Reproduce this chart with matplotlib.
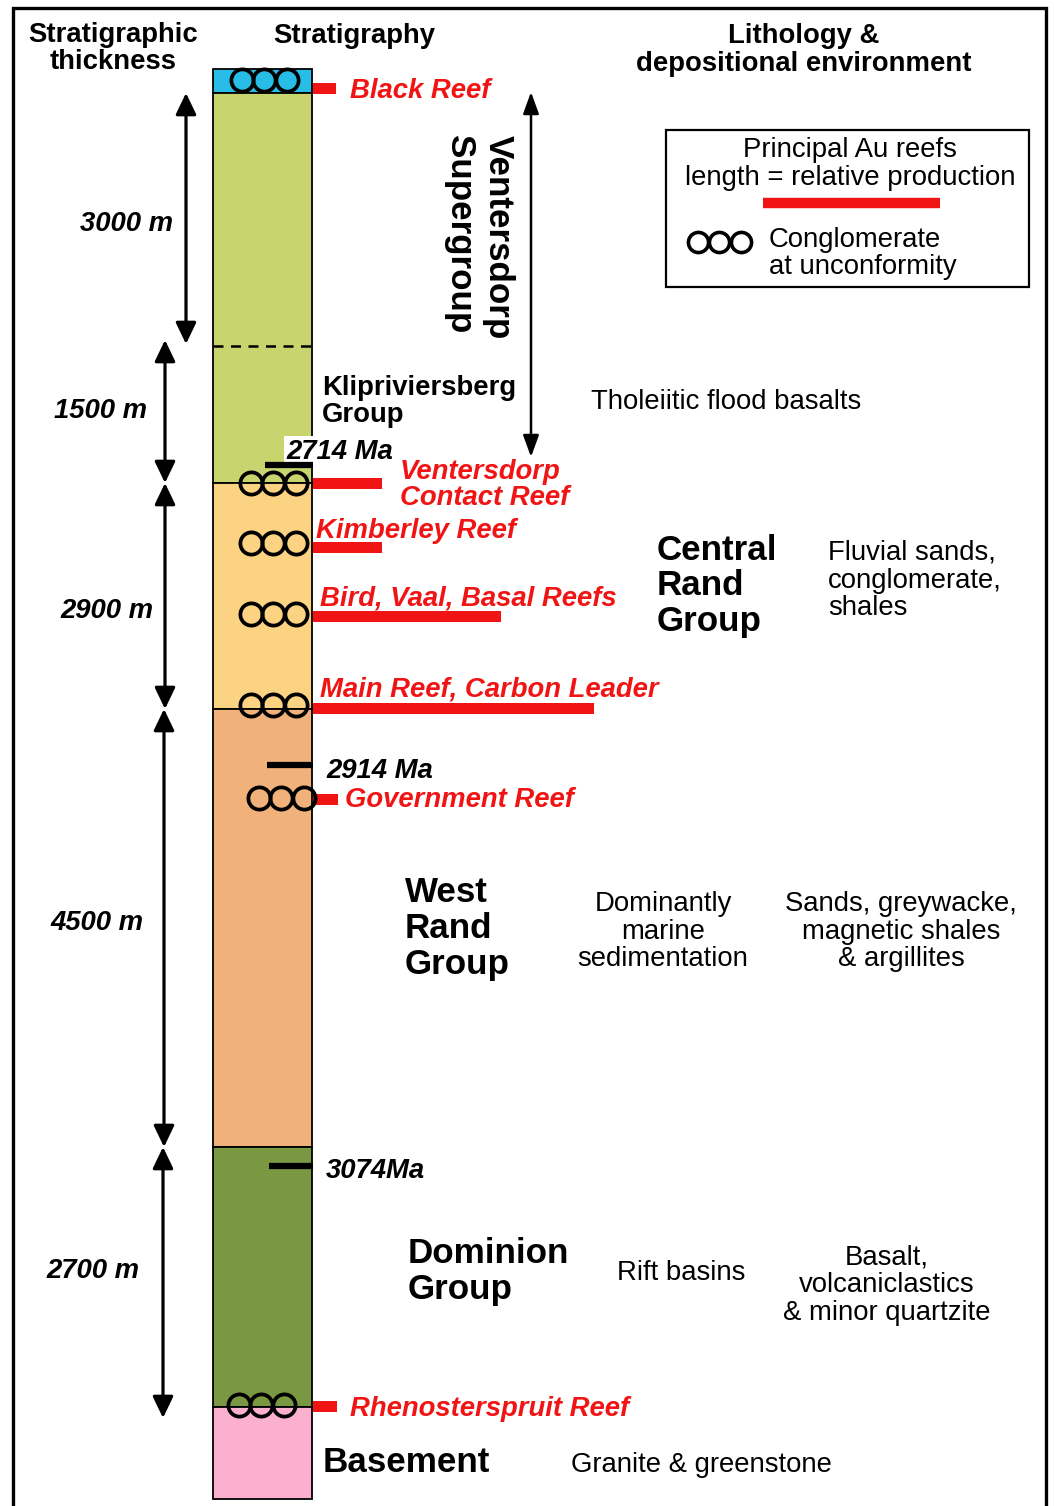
import matplotlib
matplotlib.use('Agg')
import matplotlib.pyplot as plt

plt.rcParams['font.family'] = ['Liberation Sans', 'DejaVu Sans']

# ---------------- data ----------------
units = ['Black Reef Fm', 'Klipriviersberg Group', 'Central Rand Group',
         'West Rand Group', 'Dominion Group', 'Basement']
unit_top = [69, 93, 483, 709, 1147, 1407]      # drawn column depth (top)
unit_base = [93, 483, 709, 1147, 1407, 1499]   # drawn column depth (base)
unit_colors = ['#28bde6', '#c8d56f', '#fcd283', '#f1b17b', '#7a9742', '#fbb0cf']

thick_labels = ['3000 m', '1500 m', '2900 m', '4500 m', '2700 m']
thick_top = [93, 340, 483, 709, 1147]
thick_base = [344, 483, 709, 1147, 1418]

reef_names = ['Black Reef', 'Ventersdorp\nContact Reef', 'Kimberley Reef',
              'Bird, Vaal, Basal Reefs', 'Main Reef, Carbon Leader',
              'Government Reef', 'Rhenosterspruit Reef']
reef_depth = [88, 483, 547, 616, 708, 799, 1406]
reef_production = [23, 69, 69, 188, 281, 25, 24]   # relative production (bar length)

congl_depth = [80, 483, 543, 614, 705, 798, 1405]
congl_offset = [-21, -12, -12, -12, -12, -4, -24]

ages = ['2714 Ma', '2914 Ma', '3074Ma']
age_depth = [465, 765, 1166]

# ---------------- figure ----------------
W, H = 1054, 1506
fig = plt.figure(figsize=(W / 100, H / 100), dpi=100)
ax = fig.add_axes([0, 0, 1, 1])
ax.set_xlim(0, W)
ax.set_ylim(H, 0)
ax.axis('off')

RED = '#f01414'
FS = 19.8
FL = 25.2
DY = 2.5   # vertical text nudge

# outer frame
ax.plot([13, 13, 1046, 1046], [1506, 8, 8, 1506], color='k', lw=2.4,
        solid_joinstyle='miter', zorder=1)

# stratigraphic column
col_left, col_w = 213, 99
for t, b, c in zip(unit_top, unit_base, unit_colors):
    ax.bar(col_left, b - t, bottom=t, width=col_w, align='edge', color=c,
           edgecolor='k', linewidth=1.3, zorder=2)
# dashed line inside Klipriviersberg (top of 1500 m interval)
ax.plot([col_left, col_left + col_w], [thick_top[1] + 6, thick_top[1] + 6],
        color='k', lw=1.8, ls=(0, (4, 3)), zorder=3)

# conglomerate circles
cx_base = col_left + col_w / 2
for d, off in zip(congl_depth, congl_offset):
    xs = [cx_base + off + k * 22.5 for k in range(3)]
    ax.plot(xs, [d] * 3, 'o', ms=16, mfc='none', mec='k', mew=2.7, zorder=5)

# reef bars
ax.barh(reef_depth, reef_production, left=col_left + col_w + 1, height=11,
        color=RED, zorder=4)

# reef labels
reef_lab_pos = [(350, 88), (400, 482), (316, 528), (320, 596), (320, 687),
                (345, 797), (350, 1406)]
for name, (x, y) in zip(reef_names, reef_lab_pos):
    ax.text(x, y + DY, name, color=RED, fontsize=FS, fontweight='bold',
            fontstyle='italic', ha='left', va='center', linespacing=1.0, zorder=6)

# age markers
age_x0 = [265, 267, 269]
age_lab = [(286, 449), (326, 768), (326, 1168)]
for a, d, x0, (tx, ty) in zip(ages, age_depth, age_x0, age_lab):
    ax.plot([x0, col_left + col_w + 1], [d, d], color='k', lw=4.5,
            solid_capstyle='butt', zorder=6)
    kw = {}
    if a.startswith('2714'):
        kw['bbox'] = dict(facecolor='white', edgecolor='none', pad=1.5)
    ax.text(tx, ty + DY, a, fontsize=FS, fontweight='bold', fontstyle='italic',
            ha='left', va='center', zorder=5, **kw)

# thickness arrows
thick_x = [186, 165, 165, 164, 163]
for lab, t, b, x in zip(thick_labels, thick_top, thick_base, thick_x):
    ax.annotate('', xy=(x, t), xytext=(x, b),
                arrowprops=dict(arrowstyle='<|-|>,head_length=0.5,head_width=0.24',
                                color='k', lw=2.3, mutation_scale=26,
                                shrinkA=0, shrinkB=0), zorder=3)
thick_lab_x = [127, 101, 107, 97, 93]
thick_lab_y = [221, 408, 608, 920, 1268]
for lab, x, y in zip(thick_labels, thick_lab_x, thick_lab_y):
    ax.text(x, y + DY, lab, fontsize=FS, fontweight='bold', fontstyle='italic',
            ha='center', va='center')

# Ventersdorp Supergroup arrow
ax.annotate('', xy=(531, 92), xytext=(531, 457),
            arrowprops=dict(arrowstyle='<|-|>,head_length=0.55,head_width=0.2',
                            color='k', lw=1.8, mutation_scale=24,
                            shrinkA=0, shrinkB=0))
ax.text(498, 237, 'Ventersdorp', fontsize=FL, fontweight='bold', rotation=-90,
        ha='center', va='center')
ax.text(460, 234, 'Supergroup', fontsize=FL, fontweight='bold', rotation=-90,
        ha='center', va='center')

# headers
def lines(x, ys, strs, ha='center', size=FS, weight='normal', style='normal'):
    for y, s in zip(ys, strs):
        ax.text(x, y + DY, s, fontsize=size, fontweight=weight, fontstyle=style,
                ha=ha, va='center', zorder=4)

lines(113, [32, 59], ['Stratigraphic', 'thickness'], weight='bold')
lines(354, [33], ['Stratigraphy'], weight='bold')
lines(804, [33, 61], ['Lithology &', 'depositional environment'], weight='bold')

# legend box
ax.add_patch(plt.Rectangle((666, 130), 363, 157, facecolor='white',
                           edgecolor='k', lw=1.6, zorder=2))
lines(850, [147, 175], ['Principal Au reefs', 'length = relative production'])
ax.plot([763, 940], [203, 203], color=RED, lw=7.5, solid_capstyle='butt', zorder=3)
ax.plot([698, 719, 741], [242] * 3, 'o', ms=14.5, mfc='none', mec='k', mew=2.6,
        zorder=3)
lines(769, [237, 264], ['Conglomerate', 'at unconformity'], ha='left')

# group names and descriptions
lines(322, [385, 412], ['Klipriviersberg', 'Group'], ha='left', weight='bold')
lines(591, [399], ['Tholeiitic flood basalts'], ha='left')

lines(657, [548, 583, 619], ['Central', 'Rand', 'Group'], ha='left', size=FL,
      weight='bold')
lines(828, [550, 578, 605], ['Fluvial sands,', 'conglomerate,', 'shales'], ha='left')

lines(405, [890, 926, 962], ['West', 'Rand', 'Group'], ha='left', size=FL,
      weight='bold')
lines(663, [901, 929, 956], ['Dominantly', 'marine', 'sedimentation'])
lines(901, [901, 929, 956], ['Sands, greywacke,', 'magnetic shales', '& argillites'])

lines(408, [1251, 1287], ['Dominion', 'Group'], ha='left', size=FL, weight='bold')
lines(617, [1270], ['Rift basins'], ha='left')
lines(887, [1255, 1282, 1310], ['Basalt,', 'volcaniclastics', '& minor quartzite'])

lines(323, [1460], ['Basement'], ha='left', size=FL, weight='bold')
lines(571, [1462], ['Granite & greenstone'], ha='left')

fig.savefig('out.png', dpi=100)
